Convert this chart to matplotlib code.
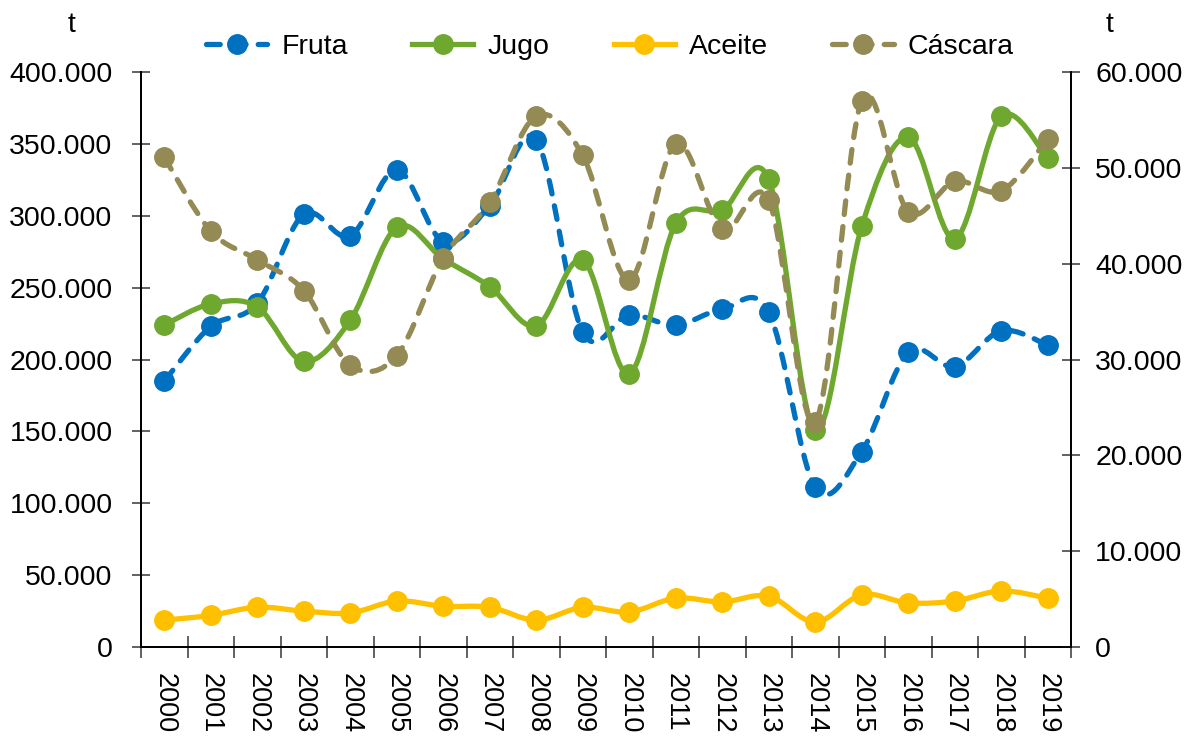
import numpy as np
import matplotlib.pyplot as plt
from matplotlib.path import Path
from matplotlib.patches import PathPatch
from matplotlib.lines import Line2D
from matplotlib.ticker import FuncFormatter, FixedLocator

plt.rcParams['font.family'] = ['Liberation Sans', 'DejaVu Sans']

# -------------------------------
# Datos (t)
# -------------------------------
years = [str(y) for y in range(2000, 2020)]

fruta = [185000, 223000, 239000, 301000, 286000, 332000, 282000, 307000, 353000, 219000,
         231000, 224000, 235000, 233000, 111000, 136000, 205000, 195000, 220000, 210000]

jugo = [33600, 35800, 35500, 29800, 34100, 43800, 40500, 37600, 33500, 40400,
        28500, 44200, 45600, 48800, 22600, 43900, 53200, 42600, 55400, 51000]

aceite = [2800, 3300, 4150, 3750, 3550, 4800, 4250, 4150, 2800, 4150,
          3650, 5100, 4700, 5300, 2600, 5450, 4600, 4800, 5850, 5100]

cascara = [51100, 43400, 40400, 37200, 29400, 30400, 40600, 46400, 55400, 51300,
           38300, 52500, 43600, 46600, 23500, 57000, 45400, 48600, 47600, 53000]

c_fruta = '#0070C0'
c_jugo = '#6EA82E'
c_aceite = '#FFC000'
c_cascara = '#948A54'

LW = 3.8
MS = 14
dash = (0, (2.6, 2.3))


def smooth_path(x, y):
    # curva suavizada tipo Excel (Bezier cúbica, tensión 1/6)
    pts = np.column_stack([x, y]).astype(float)
    n = len(pts)
    verts = [pts[0]]
    codes = [Path.MOVETO]
    for i in range(n - 1):
        p0 = pts[i - 1] if i > 0 else pts[i]
        p1 = pts[i]
        p2 = pts[i + 1]
        p3 = pts[i + 2] if i + 2 < n else pts[i + 1]
        verts += [p1 + (p2 - p0) / 6, p2 - (p3 - p1) / 6, p2]
        codes += [Path.CURVE4] * 3
    return Path(verts, codes)


def draw_series(ax, vals, color, ls):
    x = np.arange(len(vals))
    patch = PathPatch(smooth_path(x, vals), facecolor='none', edgecolor=color,
                      lw=LW, linestyle=ls, capstyle='round', joinstyle='round')
    ax.add_patch(patch)
    ax.plot(x, vals, 'o', color=color, markersize=MS, zorder=5)


fig = plt.figure(figsize=(11.9, 7.38), dpi=100)
ax = fig.add_axes([141 / 1190, 1 - 647 / 738, 930 / 1190, 575 / 738])
ax2 = ax.twinx()

draw_series(ax, fruta, c_fruta, dash)
draw_series(ax2, jugo, c_jugo, '-')
draw_series(ax2, aceite, c_aceite, '-')
draw_series(ax2, cascara, c_cascara, dash)

ax.set_xlim(-0.5, 19.5)
ax.set_ylim(0, 400000)
ax2.set_ylim(0, 60000)

fmt = FuncFormatter(lambda v, p: f"{v:,.0f}".replace(',', '.'))
ax.yaxis.set_major_formatter(fmt)
ax2.yaxis.set_major_formatter(fmt)
ax.set_yticks(np.arange(0, 400001, 50000))
ax2.set_yticks(np.arange(0, 60001, 10000))

ax.xaxis.set_major_locator(FixedLocator(range(20)))
ax.set_xticklabels(years, rotation=270)
ax.xaxis.set_minor_locator(FixedLocator(np.arange(-0.5, 20, 1)))
ax.tick_params(axis='x', which='major', length=0, pad=18.5, labelsize=19.5)
ax.tick_params(axis='x', which='minor', direction='inout', length=16, width=1.3, color='#555555')
ax.tick_params(axis='y', direction='inout', length=13, width=1.3, color='#555555', labelsize=20.5, pad=14)
ax2.tick_params(axis='y', direction='inout', length=13, width=1.3, color='#555555', labelsize=20.5, pad=11)

for a in (ax, ax2):
    a.spines['top'].set_visible(False)
    for s in ('left', 'right', 'bottom'):
        a.spines[s].set_linewidth(1.3)

fig.text(72 / 1190, 1 - 25 / 738, 't', fontsize=20.5, ha='center', va='center')
fig.text(1110 / 1190, 1 - 25 / 738, 't', fontsize=20.5, ha='center', va='center')

handles = [
    Line2D([], [], color=c_fruta, lw=LW, ls=dash, marker='o', markersize=MS, dash_capstyle='round'),
    Line2D([], [], color=c_jugo, lw=LW, marker='o', markersize=MS),
    Line2D([], [], color=c_aceite, lw=LW, marker='o', markersize=MS),
    Line2D([], [], color=c_cascara, lw=LW, ls=dash, marker='o', markersize=MS, dash_capstyle='round'),
]
fig.legend(handles, ['Fruta', 'Jugo', 'Aceite', 'Cáscara'], loc='center',
           bbox_to_anchor=(610 / 1190, 1 - 47 / 738), ncol=4, frameon=False,
           fontsize=20.5, handlelength=2.15, handletextpad=0.5, columnspacing=2.25)

fig.savefig('out.png', dpi=100)
